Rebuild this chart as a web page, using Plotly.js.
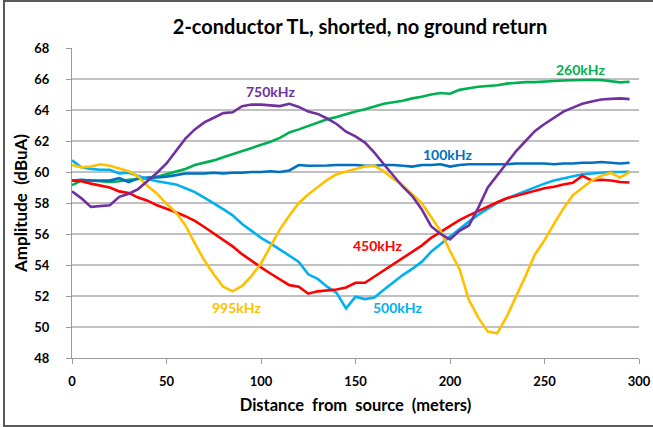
<!DOCTYPE html>
<html>
<head>
<meta charset="utf-8">
<script src="https://cdn.plot.ly/plotly-3.0.1.min.js"></script>
<style>
  html, body { margin: 0; padding: 0; background: #fff; }
  #chart { position: absolute; left: 0; top: 0; width: 653px; height: 427px; }
  #frame { position: absolute; left: 3px; top: 0px; width: 700px; height: 423px;
           border-left: 2px solid #595959; border-top: 2px solid #595959; border-bottom: 2px solid #595959;
           pointer-events: none; }
</style>
</head>
<body>
<div id="chart"></div>
<div id="frame"></div>
<script>
// Distance from source (meters)
const distance = [0,5,10,15,20,25,30,35,40,45,50,55,60,65,70,75,80,85,90,95,
  100,105,110,115,120,125,130,135,140,145,150,155,160,165,170,175,180,185,190,195,
  200,205,210,215,220,225,230,235,240,245,250,255,260,265,270,275,280,285,290,295];

// Amplitude (dBuA) per frequency
const amp100k = [59.45,59.5,59.45,59.45,59.45,59.6,59.35,59.6,59.65,59.65,59.7,59.8,59.9,59.9,59.9,59.95,59.9,59.95,59.95,60.0,
  60.0,60.05,60.0,60.1,60.45,60.4,60.4,60.42,60.45,60.45,60.45,60.4,60.4,60.45,60.45,60.4,60.35,60.45,60.45,60.5,
  60.35,60.45,60.5,60.5,60.5,60.5,60.5,60.55,60.55,60.55,60.55,60.5,60.55,60.55,60.6,60.6,60.65,60.6,60.55,60.6];

const amp260k = [59.15,59.45,59.45,59.4,59.35,59.4,59.5,59.55,59.6,59.7,59.85,60.0,60.2,60.45,60.6,60.75,60.95,61.15,61.35,61.55,
  61.75,61.95,62.2,62.55,62.75,62.95,63.2,63.4,63.55,63.75,63.9,64.05,64.2,64.4,64.5,64.6,64.75,64.85,65.0,65.1,
  65.05,65.3,65.4,65.5,65.55,65.6,65.7,65.75,65.8,65.8,65.85,65.87,65.9,65.92,65.94,65.95,65.93,65.85,65.78,65.82];

const amp450k = [59.45,59.4,59.25,59.1,59.0,58.75,58.65,58.35,58.15,57.85,57.65,57.4,57.15,56.85,56.45,56.05,55.65,55.2,54.7,54.25,
  53.85,53.45,53.05,52.7,52.6,52.15,52.3,52.35,52.42,52.55,52.85,52.85,53.25,53.6,54.0,54.43,54.85,55.25,55.75,56.15,
  56.5,56.9,57.2,57.5,57.8,58.05,58.3,58.45,58.65,58.8,58.95,59.05,59.2,59.3,59.75,59.45,59.5,59.45,59.35,59.32];

const amp500k = [60.75,60.3,60.2,60.15,60.15,59.9,59.95,59.75,59.55,59.4,59.3,59.2,58.95,58.7,58.35,58.0,57.6,57.2,56.65,56.2,
  55.75,55.4,55.0,54.55,54.2,53.4,53.1,52.6,52.2,51.2,51.95,51.8,51.9,52.4,52.9,53.35,53.75,54.2,54.85,55.35,
  55.8,56.35,56.8,57.25,57.65,58.0,58.3,58.55,58.8,59.05,59.25,59.45,59.6,59.75,59.85,59.9,59.95,60.0,60.0,60.02];

const amp750k = [58.75,58.3,57.75,57.8,57.85,58.4,58.6,58.9,59.4,59.95,60.55,61.35,62.15,62.75,63.2,63.5,63.8,63.85,64.25,64.35,
  64.35,64.3,64.25,64.4,64.2,63.9,63.75,63.45,63.1,62.6,62.3,61.9,61.25,60.5,59.8,59.05,58.45,57.6,56.5,56.0,
  55.65,56.2,56.55,57.7,59.0,59.8,60.6,61.35,62.0,62.65,63.1,63.5,63.9,64.15,64.4,64.55,64.68,64.72,64.75,64.7];

const amp995k = [60.45,60.3,60.35,60.5,60.4,60.2,60.05,59.7,59.1,58.6,57.95,57.4,56.55,55.4,54.3,53.4,52.6,52.3,52.65,53.3,
  54.1,55.2,56.3,57.2,58.0,58.55,59.0,59.5,59.85,60.05,60.2,60.35,60.4,60.05,59.55,59.15,58.55,58.0,57.1,56.2,
  54.9,53.75,51.75,50.6,49.7,49.6,50.66,51.95,53.3,54.7,55.6,56.65,57.65,58.5,59.0,59.45,59.75,59.95,59.65,60.0];

const seriesNames = ["100kHz","260kHz","450kHz","500kHz","750kHz","995kHz"];
const seriesValues = [amp100k, amp260k, amp450k, amp500k, amp750k, amp995k];
const seriesColors = ["#0070C0","#00B050","#FF0000","#00B0F0","#7030A0","#FFC000"];

// Inline label positions (distance, amplitude)
const labelX = [198.7, 268.9, 161.7, 172.2, 104.9, 86.9];
const labelY = [61.16, 66.63, 55.29, 51.23, 65.18, 51.23];

const xTicks = [0,50,100,150,200,250,300];
const yTicks = [48,50,52,54,56,58,60,62,64,66,68];

const FONT = "Lato, 'Open Sans', 'Liberation Sans', sans-serif";

const drawOrder = [1,0,3,2,5,4];
const traces = drawOrder.map(i => ({
  x: distance, y: seriesValues[i], name: seriesNames[i], type: "scatter", mode: "lines",
  line: {color: seriesColors[i], width: 2.6}
}));

const annotations = seriesNames.map((n, i) => ({
  x: labelX[i], y: labelY[i], xref: "x", yref: "y", text: "<b>" + n + "</b>",
  showarrow: false, font: {family: FONT, size: 14, color: seriesColors[i]}
}));

const layout = {
  width: 653, height: 427,
  margin: {l: 72, r: 14, t: 48, b: 69},
  paper_bgcolor: "#ffffff", plot_bgcolor: "#ffffff",
  showlegend: false,
  title: {text: "<b>2-conductor TL, shorted, no ground return</b>", x: 0.508, xref: "paper", y: 0.952, yref: "container",
          font: {family: FONT, size: 20, color: "#000"}},
  xaxis: {
    range: [0, 300], tickvals: xTicks, ticktext: xTicks.map(String),
    showgrid: false, zeroline: false, showline: true, linecolor: "#9a9a9a", linewidth: 1,
    ticks: "outside", ticklen: 5, tickcolor: "#9a9a9a", ticklabelstandoff: 6,
    tickfont: {family: FONT, size: 13, color: "#000", weight: "bold"},
    title: {text: "<b>Distance  from  source  (meters)</b>", standoff: 11, font: {family: FONT, size: 16.5, color: "#000"}}
  },
  yaxis: {
    range: [48, 68], tickvals: yTicks, ticktext: yTicks.map(String),
    showgrid: true, gridcolor: "#c0c0c0", gridwidth: 1.3, zeroline: false,
    showline: true, linecolor: "#9a9a9a", linewidth: 1,
    ticks: "outside", ticklen: 5, tickcolor: "#9a9a9a", ticklabelstandoff: 14,
    tickfont: {family: FONT, size: 13, color: "#000", weight: "bold"},
    title: {text: "<b>Amplitude  (dBuA)</b>", standoff: 2, font: {family: FONT, size: 17, color: "#000"}}
  },
  annotations: annotations
};

Plotly.newPlot("chart", traces, layout, {staticPlot: true, displayModeBar: false});
</script>
</body>
</html>
